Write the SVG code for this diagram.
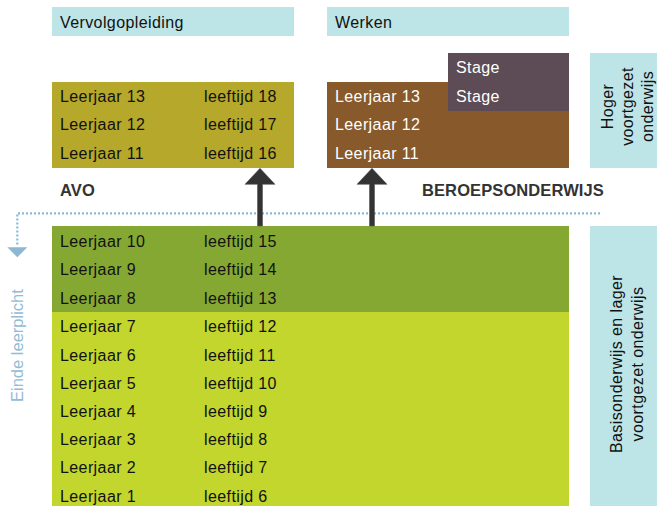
<svg xmlns="http://www.w3.org/2000/svg" width="657" height="506" viewBox="0 0 657 506">
<style>
text{font-family:"Liberation Sans",Arial,Helvetica,sans-serif;font-size:16px;letter-spacing:0.4px;fill:#111}
.w{fill:#fff}
.b{font-weight:bold;fill:#333;font-size:16.5px;letter-spacing:0.1px}
.hdr{fill:#bde4e6}
.arrow{fill:#333;stroke:#555;stroke-width:0.6}
.dot{fill:none;stroke:#8db8d3;stroke-width:2.2;stroke-dasharray:2 2}
</style>
<g id="vervolgopleiding"><rect class="hdr" x="52" y="7" width="242" height="29"/><text x="60" y="28">Vervolgopleiding</text></g>
<g id="werken"><rect class="hdr" x="327" y="7" width="242" height="29"/><text x="335" y="28">Werken</text></g>
<g id="hoger"><rect class="hdr" x="590" y="53" width="67" height="115"/>
<text transform="translate(613,106.5) rotate(-90)" text-anchor="middle">Hoger</text>
<text transform="translate(633,106.5) rotate(-90)" text-anchor="middle">voortgezet</text>
<text transform="translate(653,106.5) rotate(-90)" text-anchor="middle">onderwijs</text></g>
<g id="avo-boven"><rect x="52" y="82" width="242" height="86" fill="#b5a82a"/>
<text x="60" y="101.5">Leerjaar 13</text><text x="204" y="101.5">leeftijd 18</text>
<text x="60" y="130.3">Leerjaar 12</text><text x="204" y="130.3">leeftijd 17</text>
<text x="60" y="159">Leerjaar 11</text><text x="204" y="159">leeftijd 16</text></g>
<g id="beroeps-boven"><rect x="327" y="82" width="242" height="86" fill="#87592b"/>
<text class="w" x="335" y="101.5">Leerjaar 13</text>
<text class="w" x="335" y="130.3">Leerjaar 12</text>
<text class="w" x="335" y="159">Leerjaar 11</text></g>
<g id="stage"><rect x="448" y="53" width="121" height="58" fill="#5d4c55"/>
<text class="w" x="456" y="73.3">Stage</text><text class="w" x="456" y="101.5">Stage</text></g>
<g id="labels"><text class="b" x="60" y="196">AVO</text><text class="b" x="422" y="196">BEROEPSONDERWIJS</text></g>
<g id="basis"><rect x="52" y="226" width="517" height="280" fill="#c2d62e"/><rect x="52" y="226" width="517" height="86" fill="#85a833"/>
<text x="60" y="247">Leerjaar 10</text><text x="204" y="247">leeftijd 15</text>
<text x="60" y="275.3">Leerjaar 9</text><text x="204" y="275.3">leeftijd 14</text>
<text x="60" y="303.6">Leerjaar 8</text><text x="204" y="303.6">leeftijd 13</text>
<text x="60" y="331.9">Leerjaar 7</text><text x="204" y="331.9">leeftijd 12</text>
<text x="60" y="360.6">Leerjaar 6</text><text x="204" y="360.6">leeftijd 11</text>
<text x="60" y="388.7">Leerjaar 5</text><text x="204" y="388.7">leeftijd 10</text>
<text x="60" y="416.9">Leerjaar 4</text><text x="204" y="416.9">leeftijd 9</text>
<text x="60" y="445.1">Leerjaar 3</text><text x="204" y="445.1">leeftijd 8</text>
<text x="60" y="473.4">Leerjaar 2</text><text x="204" y="473.4">leeftijd 7</text>
<text x="60" y="501.7">Leerjaar 1</text><text x="204" y="501.7">leeftijd 6</text></g>
<g id="basis-label"><rect class="hdr" x="590" y="226" width="67" height="280"/>
<text transform="translate(622,364) rotate(-90)" text-anchor="middle">Basisonderwijs en lager</text>
<text transform="translate(643,364) rotate(-90)" text-anchor="middle">voortgezet onderwijs</text></g>
<g id="einde"><text transform="translate(22.5,402) rotate(-90)" style="fill:#93bcd5;letter-spacing:0;font-size:16.5px">Einde leerplicht</text></g>
<g id="connectors">
<path class="dot" d="M600 213.3 H17.3 V246"/>
<polygon points="7.3,247.3 27.3,247.3 17.3,257.3" fill="#8db8d3"/>
<polygon class="arrow" points="260,168.3 275,184.3 262.5,184.3 262.5,226 257.5,226 257.5,184.3 245,184.3"/>
<polygon class="arrow" points="372,168.3 387,184.3 374.5,184.3 374.5,226 369.5,226 369.5,184.3 357,184.3"/>
</g>
</svg>
